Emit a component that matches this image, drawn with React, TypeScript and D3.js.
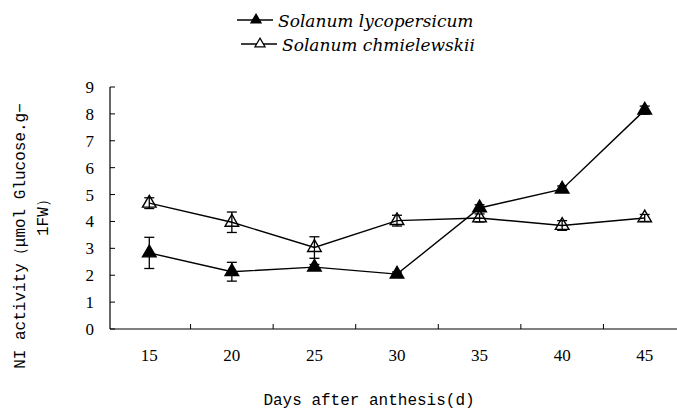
import * as d3 from "d3";

// days after anthesis
const days = [15, 20, 25, 30, 35, 40, 45];

// Solanum lycopersicum (filled triangles)
const lycoMean = [2.83, 2.13, 2.3, 2.04, 4.5, 5.2, 8.14];
const lycoErr = [0.58, 0.35, 0.1, 0.08, 0.12, 0.12, 0.15];

// Solanum chmielewskii (open triangles)
const chmiMean = [4.68, 3.97, 3.03, 4.03, 4.13, 3.85, 4.13];
const chmiErr = [0.2, 0.38, 0.4, 0.2, 0.15, 0.18, 0.13];

const yTicks = [0, 1, 2, 3, 4, 5, 6, 7, 8, 9];

const W = 677;
const H = 411;

const css = `
  .serif { font-family: "Liberation Serif"; }
  .mono { font-family: "Liberation Mono"; }
  .legend { font-family: "DejaVu Serif"; font-style: italic; }
`;

export default function App() {
    const x = d3
        .scaleBand<number>()
        .domain(days)
        .range([108, 686]);
    const cx = (d: number) => (x(d) ?? 0) + x.bandwidth() / 2;

    const y = d3.scaleLinear().domain([0, 9]).range([329, 87]);

    const line = d3
        .line<number>()
        .x((_, i) => cx(days[i]))
        .y((v) => y(v));

    const triBig = d3.symbol(d3.symbolTriangle, 80)() as string;
    const triSmall = d3.symbol(d3.symbolTriangle, 45)() as string;

    const series = [
        { name: "Solanum lycopersicum", mean: lycoMean, err: lycoErr, fill: "#000" },
        { name: "Solanum chmielewskii", mean: chmiMean, err: chmiErr, fill: "#fff" },
    ];

    const bandEdges = days.slice(1).map((d) => x(d) ?? 0);

    return (
        <div style={{ position: "absolute", left: 0, top: 0 }}>
            <svg width={W} height={H}>
                <style>{css}</style>
                {/* legend */}
                {series.map((s, i) => {
                    const ly = 20 + i * 24;
                    const lx = 237 + i * 4;
                    return (
                        <g key={s.name}>
                            <line x1={lx} x2={lx + 36} y1={ly} y2={ly} stroke="#000" strokeWidth={1.3} />
                            <path
                                d={triSmall}
                                transform={`translate(${lx + 19},${ly})`}
                                fill={s.fill}
                                stroke="#000"
                                strokeWidth={1.2}
                            />
                            <text x={lx + 41} y={ly + 7} className="legend" fontFamily="DejaVu Serif" fontStyle="italic" fontSize={17}>
                                {s.name}
                            </text>
                        </g>
                    );
                })}

                {/* axes */}
                <line x1={110} x2={110} y1={y(9)} y2={y(0)} stroke="#000" strokeWidth={1.2} />
                <line x1={110} x2={686} y1={y(0)} y2={y(0)} stroke="#000" strokeWidth={1.2} />
                {yTicks.map((t) => (
                    <g key={t}>
                        <line x1={110} x2={115} y1={y(t)} y2={y(t)} stroke="#000" strokeWidth={1} />
                        <text x={94} y={y(t) + 6} textAnchor="end" className="serif" fontFamily="Liberation Serif" fontSize={17}>
                            {String(t)}
                        </text>
                    </g>
                ))}
                {bandEdges.map((e, i) => (
                    <line key={i} x1={e} x2={e} y1={y(0)} y2={y(0) - 5} stroke="#000" strokeWidth={1} />
                ))}
                {days.map((d) => (
                    <text key={d} x={cx(d)} y={361} textAnchor="middle" className="serif" fontFamily="Liberation Serif" fontSize={17}>
                        {String(d)}
                    </text>
                ))}

                {/* axis titles */}
                <text x={369} y={405} textAnchor="middle" className="mono" fontFamily="Liberation Mono" fontSize={16}>
                    Days after anthesis(d)
                </text>
                <g transform="translate(0,236) rotate(-90)">
                    <text x={0} y={25} textAnchor="middle" className="mono" fontFamily="Liberation Mono" fontSize={16}>
                        NI activity（μmol Glucose.g−
                    </text>
                    <text x={0} y={48} textAnchor="start" className="mono" fontFamily="Liberation Mono" fontSize={16}>
                        1FW）
                    </text>
                </g>

                {/* series */}
                {series.map((s) => (
                    <g key={s.name}>
                        <path d={line(s.mean) ?? ""} fill="none" stroke="#000" strokeWidth={1.4} />
                        {s.mean.map((v, i) => {
                            const px = cx(days[i]);
                            const top = y(v + s.err[i]);
                            const bot = y(v - s.err[i]);
                            return (
                                <g key={i}>
                                    <line x1={px} x2={px} y1={top} y2={bot} stroke="#000" strokeWidth={1.3} />
                                    <line x1={px - 5} x2={px + 5} y1={top} y2={top} stroke="#000" strokeWidth={1.3} />
                                    <line x1={px - 5} x2={px + 5} y1={bot} y2={bot} stroke="#000" strokeWidth={1.3} />
                                </g>
                            );
                        })}
                        {s.mean.map((v, i) => (
                            <path
                                key={"m" + i}
                                d={triBig}
                                transform={`translate(${cx(days[i])},${y(v)})`}
                                fill={s.fill}
                                fillOpacity={s.fill === "#fff" ? 0 : 1}
                                stroke="#000"
                                strokeWidth={1.4}
                            />
                        ))}
                    </g>
                ))}
            </svg>
        </div>
    );
}
